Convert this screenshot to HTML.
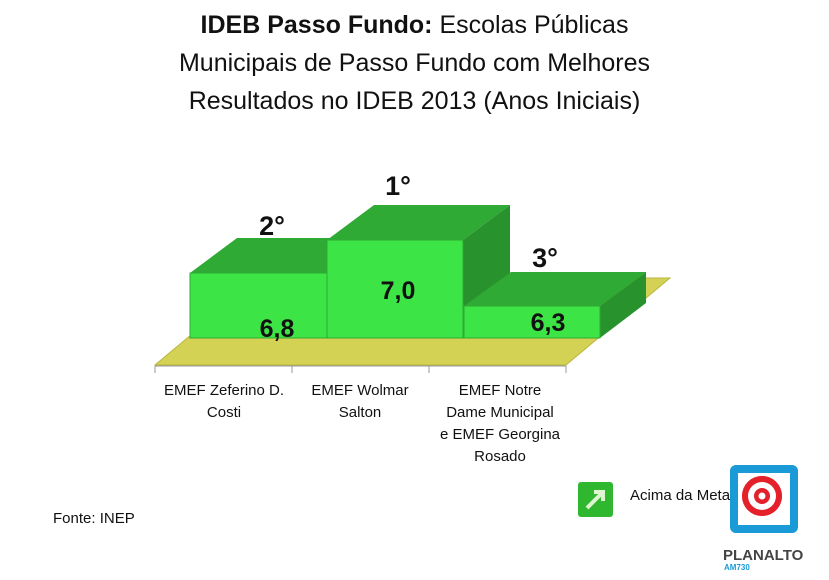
<!DOCTYPE html>
<html><head><meta charset="utf-8"><style>
body{margin:0;width:829px;height:580px;background:#fff;overflow:hidden;font-family:"Liberation Sans",sans-serif;position:relative}
.t{position:absolute;left:0;width:829px;text-align:center;font-size:25px;color:#111;line-height:38px;top:6px}
.lab{position:absolute;font-size:15px;text-align:center;line-height:22px;color:#111}
</style></head><body>
<div class="t"><b>IDEB Passo Fundo:</b> Escolas Públicas<br>Municipais de Passo Fundo com Melhores<br>Resultados no IDEB 2013 (Anos Iniciais)</div>
<svg width="829" height="580" style="position:absolute;left:0;top:0">
<polygon points="155,365 566,365 670,278 259,278" fill="#d4d255" stroke="#b8b640"/>
<line x1="155" y1="366" x2="566" y2="366" stroke="#999"/>
<g stroke="#999"><line x1="155" y1="366" x2="155" y2="373"/><line x1="292" y1="366" x2="292" y2="373"/><line x1="429" y1="366" x2="429" y2="373"/><line x1="566" y1="366" x2="566" y2="373"/></g>
<!-- bar1 -->
<polygon points="190,273 237,238 373,238 326,273" fill="#2faa35"/>
<rect x="190" y="273" width="137" height="65" fill="#3de445" stroke="#2faa35"/>
<!-- bar2 -->
<polygon points="327,240 374,205 510,205 463,240" fill="#2faa35"/>
<polygon points="463,240 510,205 510,303 463,338" fill="#28922d"/>
<rect x="327" y="240" width="136" height="98" fill="#3de445" stroke="#2faa35"/>
<!-- bar3 -->
<polygon points="464,306 511,272 646,272 600,306" fill="#2faa35"/>
<polygon points="600,306 646,272 646,303 600,338" fill="#28922d"/>
<rect x="464" y="306" width="136" height="32" fill="#3de445" stroke="#2faa35"/>
<g font-family="Liberation Sans" font-weight="bold" fill="#111" text-anchor="middle">
<text x="272" y="235" font-size="27">2°</text>
<text x="398" y="195" font-size="27">1°</text>
<text x="545" y="267" font-size="27">3°</text>
<text x="277" y="337" font-size="25">6,8</text>
<text x="398" y="299" font-size="25">7,0</text>
<text x="548" y="331" font-size="25">6,3</text>
</g>
<rect x="578" y="482" width="35" height="35" rx="3" fill="#2fb82f"/>
<path d="M587 508 L602 493 M594 492 L603 492 L603 501" stroke="#dff5d0" stroke-width="4" fill="none"/>
<rect x="730" y="465" width="68" height="68" rx="6" fill="#1a9ad6"/>
<rect x="738" y="473" width="52" height="52" fill="#fff"/>
<circle cx="762" cy="496" r="20" fill="#e4202a"/><circle cx="762" cy="496" r="14" fill="#fff"/><circle cx="762" cy="496" r="8" fill="#e4202a"/><circle cx="762" cy="496" r="3.5" fill="#fff"/>
<text x="723" y="560" font-size="15" font-weight="bold" fill="#444" font-family="Liberation Sans">PLANALTO</text>
<text x="724" y="570" font-size="8" font-weight="bold" fill="#1a9ad6" font-family="Liberation Sans">AM730</text>
</svg>
<div style="position:absolute;left:630px;top:487px;font-size:15px;color:#111">Acima da Meta</div>
<svg width="829" height="580" style="position:absolute;left:0;top:0"><circle cx="762" cy="496" r="20" fill="#e4202a"/><circle cx="762" cy="496" r="14" fill="#fff"/><circle cx="762" cy="496" r="8" fill="#e4202a"/><circle cx="762" cy="496" r="3.5" fill="#fff"/></svg>
<div class="lab" style="left:150px;top:380px;width:148px">EMEF Zeferino D.<br>Costi</div>
<div class="lab" style="left:290px;top:380px;width:140px">EMEF Wolmar<br>Salton</div>
<div class="lab" style="left:430px;top:380px;width:140px">EMEF Notre<br>Dame Municipal<br>e EMEF Georgina<br>Rosado</div>
<div style="position:absolute;left:53px;top:510px;font-size:15px;color:#111">Fonte: INEP</div>
</body></html>
